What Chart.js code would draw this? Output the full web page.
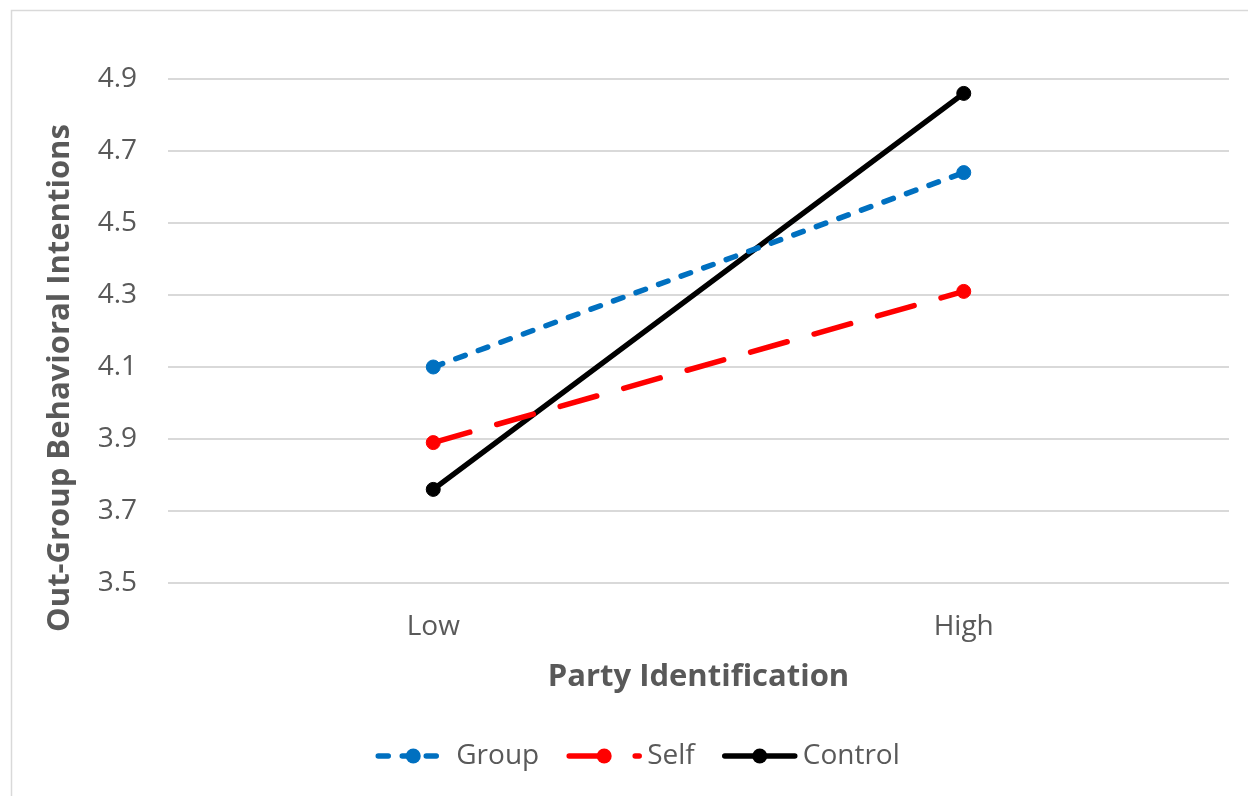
<!DOCTYPE html>
<html><head><meta charset="utf-8">
<script src="https://cdn.jsdelivr.net/npm/chart.js@4.4.1/dist/chart.umd.min.js"></script>
<style>html,body{margin:0;padding:0;background:#fff;overflow:hidden;} #wrap{width:1248px;height:796px;position:relative;}</style>
</head><body><div id="wrap"><canvas id="c" width="1248" height="796"></canvas></div>
<script>
const categories = ['Low', 'High'];
const groupValues = [4.10, 4.64];
const selfValues = [3.89, 4.31];
const controlValues = [3.76, 4.86];
const yTickValues = [3.5, 3.7, 3.9, 4.1, 4.3, 4.5, 4.7, 4.9];
const seriesNames = ['Group', 'Self', 'Control'];
const xTitleText = 'Party Identification';
const yTitleText = 'Out-Group Behavioral Intentions';

const TXT = '#595959';
const FONT = '"Open Sans", "DejaVu Sans", sans-serif';

const decor = {
  id: 'decor',
  afterDraw(chart) {
    const ctx = chart.ctx;
    const ca = chart.chartArea;
    ctx.save();
    // outer frame
    ctx.strokeStyle = '#d9d9d9';
    ctx.lineWidth = 1.5;
    ctx.strokeRect(11.5, 10.5, 1400, 900);
    // x title
    ctx.fillStyle = TXT;
    ctx.font = 'bold 31px ' + FONT;
    ctx.textAlign = 'center';
    ctx.textBaseline = 'middle';
    ctx.fillText(xTitleText, (ca.left + ca.right) / 2, 677);
    // y title
    ctx.save();
    ctx.translate(60, 378);
    ctx.rotate(-Math.PI / 2);
    ctx.fillText(yTitleText, 0, 0);
    ctx.restore();
    // legend
    ctx.font = '28px ' + FONT;
    const lineLen = 70, textGap = 8, itemGap = 30;
    const items = chart.data.datasets.map((ds, i) => ({ds, w: ctx.measureText(ds.label).width}));
    let total = 0;
    items.forEach((it, i) => { total += lineLen + textGap + it.w + (i < items.length - 1 ? itemGap : 0); });
    let x = 639 - total / 2;
    const y = 756;
    items.forEach(it => {
      const ds = it.ds;
      ctx.save();
      ctx.strokeStyle = ds.borderColor;
      ctx.lineWidth = ds.borderWidth;
      ctx.lineCap = 'round';
      ctx.setLineDash(ds.borderDash || []);
      ctx.beginPath();
      ctx.moveTo(x, y);
      ctx.lineTo(x + lineLen, y);
      ctx.stroke();
      ctx.setLineDash([]);
      ctx.fillStyle = ds.borderColor;
      ctx.beginPath();
      ctx.arc(x + lineLen / 2, y, 7.5, 0, Math.PI * 2);
      ctx.fill();
      ctx.restore();
      ctx.fillStyle = TXT;
      ctx.textAlign = 'left';
      ctx.textBaseline = 'middle';
      ctx.fillText(ds.label, x + lineLen + textGap, y);
      x += lineLen + textGap + it.w + itemGap;
    });
    ctx.restore();
  }
};

function mkDs(label, data, color, dash) {
  return {
    label, data,
    borderColor: color, backgroundColor: color,
    borderWidth: 5.5, borderDash: dash, borderCapStyle: 'round', borderJoinStyle: 'round',
    pointRadius: 7, pointHoverRadius: 7, pointBackgroundColor: color, pointBorderColor: color, pointBorderWidth: 1,
    tension: 0, fill: false
  };
}

new Chart(document.getElementById('c'), {
  type: 'line',
  data: {
    labels: categories,
    datasets: [
      mkDs(seriesNames[0], groupValues, '#0070C0', [10, 14]),
      mkDs(seriesNames[1], selfValues, '#FF0000', [38, 28]),
      mkDs(seriesNames[2], controlValues, '#000000', [])
    ]
  },
  options: {
    responsive: false,
    animation: false,
    layout: { padding: { top: 79, right: 19, left: 0, bottom: 0 } },
    plugins: { legend: { display: false }, tooltip: { enabled: false }, title: { display: false } },
    scales: {
      x: {
        type: 'category',
        offset: true,
        grid: { display: false, drawTicks: false },
        border: { display: false },
        ticks: { color: TXT, font: { family: FONT, size: 28 }, padding: 27, maxRotation: 0 },
        afterFit(s) { s.height = 213; }
      },
      y: {
        min: 3.5, max: 4.9,
        grid: { color: '#d9d9d9', lineWidth: 2, drawTicks: false },
        border: { display: false },
        ticks: { color: TXT, font: { family: FONT, size: 28 }, padding: 31, callback: v => Number(v).toFixed(1) },
        afterBuildTicks(s) { s.ticks = yTickValues.map(v => ({value: v})); },
        afterFit(s) { s.width = 168; }
      }
    }
  },
  plugins: [decor]
});
</script>
</body></html>
